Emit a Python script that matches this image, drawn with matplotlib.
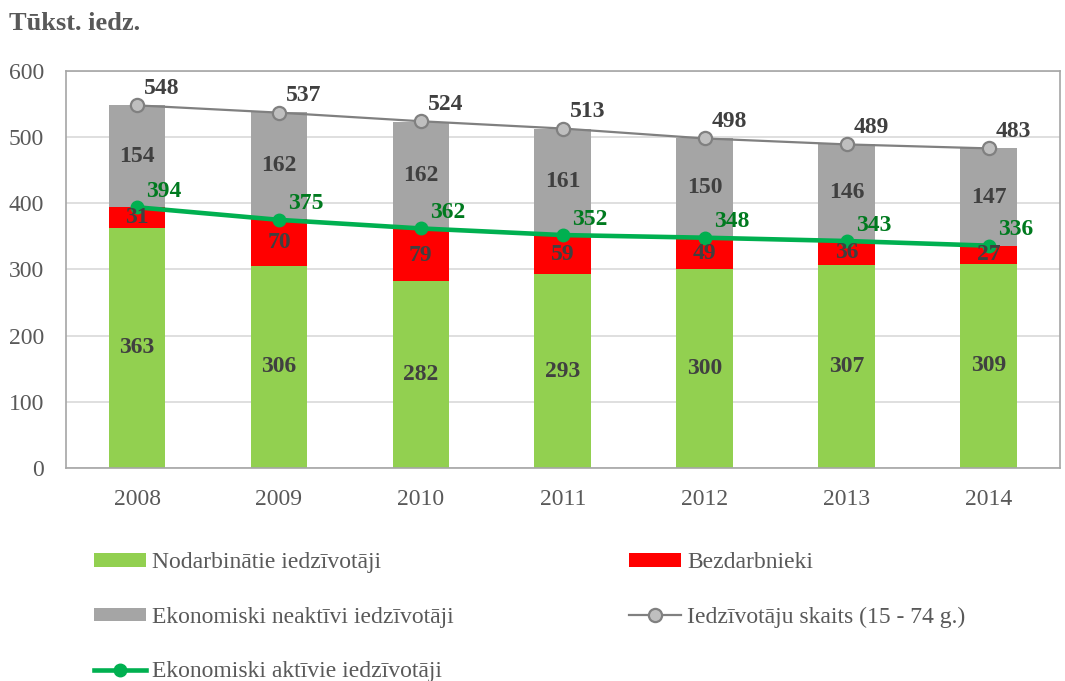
import matplotlib.pyplot as plt
import numpy as np

plt.rcParams['font.family'] = ['Liberation Serif', 'DejaVu Serif']

years = ['2008', '2009', '2010', '2011', '2012', '2013', '2014']
employed = [363, 306, 282, 293, 300, 307, 309]
unemployed = [31, 70, 79, 59, 49, 36, 27]
inactive = [154, 162, 162, 161, 150, 146, 147]
population = [548, 537, 524, 513, 498, 489, 483]
active = [394, 375, 362, 352, 348, 343, 336]

c_green = '#92d050'
c_red = '#ff0000'
c_gray = '#a5a5a5'
c_line_gray = '#808080'
c_line_green = '#00b050'
c_text = '#404040'

fig = plt.figure(figsize=(10.65, 6.81), dpi=100)
ax = fig.add_axes([0.062, 0.3128, 0.933, 0.583])

x = np.arange(len(years))
w = 0.40
emp = np.array(employed)
une = np.array(unemployed)
ina = np.array(inactive)

b1 = ax.bar(x, emp, w, color=c_green, label='Nodarbinātie iedzīvotāji', zorder=2)
b2 = ax.bar(x, une, w, bottom=emp, color=c_red, label='Bezdarbnieki', zorder=2)
b3 = ax.bar(x, ina, w, bottom=emp + une, color=c_gray, label='Ekonomiski neaktīvi iedzīvotāji', zorder=2)

# vērtības stabiņos
for i in range(len(x)):
    ax.text(x[i], emp[i] / 2, str(employed[i]), ha='center', va='center',
            fontsize=17, fontweight='bold', color=c_text, zorder=5)
    ax.text(x[i], emp[i] + une[i] / 2, str(unemployed[i]), ha='center', va='center',
            fontsize=17, fontweight='bold', color=c_text, zorder=5)
    ax.text(x[i], emp[i] + une[i] + ina[i] / 2, str(inactive[i]), ha='center', va='center',
            fontsize=17, fontweight='bold', color=c_text, zorder=5)

l1, = ax.plot(x, population, color=c_line_gray, lw=1.6, marker='o', ms=9.5,
              mfc='#bfbfbf', mec=c_line_gray, mew=1.6,
              label='Iedzīvotāju skaits (15 - 74 g.)', zorder=4)
l2, = ax.plot(x, active, color=c_line_green, lw=3.3, marker='o', ms=9,
              mfc=c_line_green, mec=c_line_green,
              label='Ekonomiski aktīvie iedzīvotāji', zorder=4)

for i in range(len(x)):
    ax.annotate(str(population[i]), (x[i], population[i]), xytext=(25, 17),
                textcoords='offset pixels', ha='center', va='center',
                fontsize=17, fontweight='bold', color=c_text, zorder=6)
    ax.annotate(str(active[i]), (x[i], active[i]), xytext=(27, 16),
                textcoords='offset pixels', ha='center', va='center',
                fontsize=17, fontweight='bold', color='#007a1f', zorder=6)

ax.set_xlim(-0.5, 6.5)
ax.set_ylim(0, 600)
ax.set_yticks(range(0, 601, 100))
ax.set_xticks(x)
ax.set_xticklabels(years)
ax.tick_params(axis='both', length=0, labelsize=17, colors='#595959')
ax.tick_params(axis='y', pad=16)
ax.tick_params(axis='x', pad=15)
ax.grid(axis='y', color='#d9d9d9', lw=1.2, zorder=0)
ax.set_axisbelow(True)
for s in ax.spines.values():
    s.set_color('#a6a6a6')
    s.set_linewidth(1.2)

fig.text(0.008, 0.966, 'Tūkst. iedz.', fontsize=19, fontweight='bold',
         color='#595959', ha='left', va='center')

handles = [b1, b3, l2, b2, l1]
labels = [h.get_label() for h in handles]
fig.legend(handles, labels, ncol=2, loc='upper left', bbox_to_anchor=(0.088, 0.189),
           frameon=False, fontsize=17, labelcolor='#595959', handlelength=2.2,
           handleheight=0.5, handletextpad=0.25, columnspacing=7.45, labelspacing=1.42,
           borderaxespad=0, borderpad=0)

plt.savefig('out.png', dpi=100)
